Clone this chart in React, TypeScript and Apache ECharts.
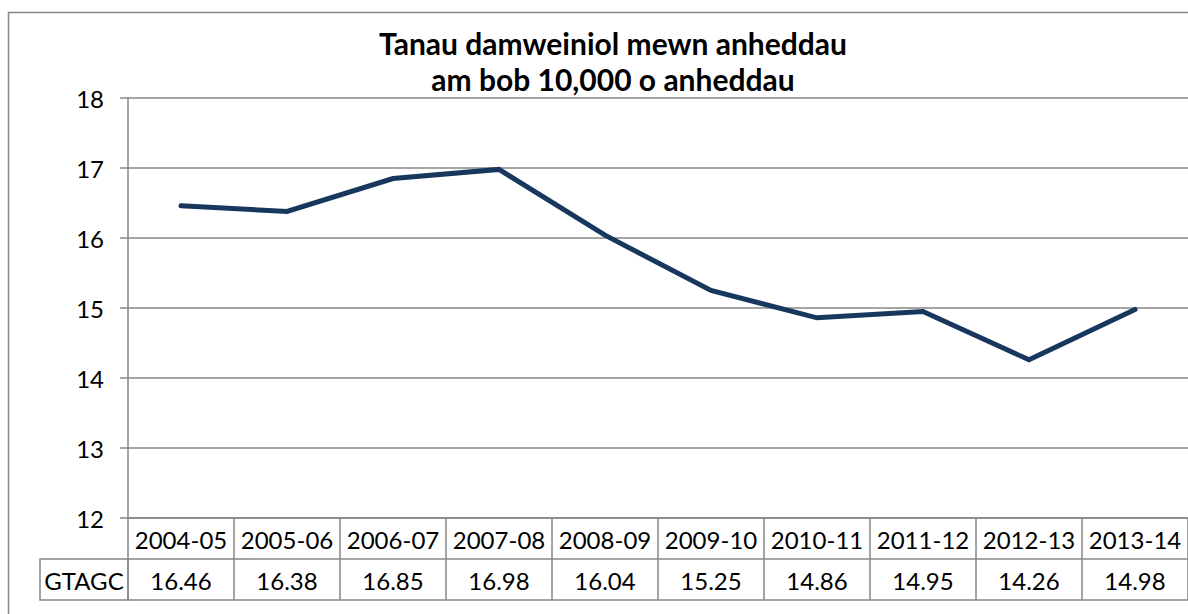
import React, { useEffect, useRef } from "react";
import * as echarts from "echarts";

const categories = ["2004-05", "2005-06", "2006-07", "2007-08", "2008-09", "2009-10", "2010-11", "2011-12", "2012-13", "2013-14"];
const values = [16.46, 16.38, 16.85, 16.98, 16.04, 15.25, 14.86, 14.95, 14.26, 14.98];
const seriesName = "GTAGC";
const titleText = "Tanau damweiniol mewn anheddau\nam bob 10,000 o anheddau";

const FONT = "Lato, 'Open Sans', sans-serif";
const GRAY = "#878787";

export default function App() {
  const ref = useRef<HTMLDivElement>(null);
  useEffect(() => {
    if (!ref.current) return;
    const chart = echarts.init(ref.current, undefined, { renderer: "svg" });
    const gridLeft = 128, gridTop = 98, gridW = 1070, gridH = 420, rowH = 41;
    chart.setOption({
      animation: false,
      backgroundColor: "#ffffff",
      textStyle: { fontFamily: FONT },
      title: {
        text: titleText,
        left: 608,
        textAlign: "center",
        top: 20,
        textStyle: { fontFamily: FONT, fontSize: 30, fontWeight: "bold", color: "#000", lineHeight: 36 },
      },
      grid: { left: gridLeft, top: gridTop, width: gridW, height: gridH },
      xAxis: [
        {
          type: "category",
          data: categories,
          boundaryGap: true,
          axisLine: { show: true, lineStyle: { color: GRAY, width: 1.5 } },
          axisTick: { show: true, length: rowH, interval: 0, lineStyle: { color: GRAY, width: 1.5 } },
          axisLabel: { interval: 0, margin: 9, fontSize: 24, color: "#000", fontFamily: FONT },
          splitLine: { show: false },
        },
        {
          type: "category",
          data: values.map((v) => v.toFixed(2)),
          position: "bottom",
          offset: rowH,
          boundaryGap: true,
          axisLine: { show: true, lineStyle: { color: GRAY, width: 1.5 } },
          axisTick: { show: true, length: rowH, interval: 0, lineStyle: { color: GRAY, width: 1.5 } },
          axisLabel: { interval: 0, margin: 9, fontSize: 24, color: "#000", fontFamily: FONT },
        },
        {
          type: "category",
          data: categories,
          position: "bottom",
          offset: rowH * 2,
          axisLine: { show: true, lineStyle: { color: GRAY, width: 1.5 } },
          axisTick: { show: false },
          axisLabel: { show: false },
        },
      ],
      yAxis: {
        type: "value",
        min: 12,
        max: 18,
        interval: 1,
        axisLine: { show: true, lineStyle: { color: GRAY, width: 1.5 } },
        axisTick: { show: true, length: 8, lineStyle: { color: GRAY, width: 1.5 } },
        axisLabel: { margin: 24, fontSize: 24, color: "#000", fontFamily: FONT },
        splitLine: { show: true, lineStyle: { color: GRAY, width: 1.5 } },
      },
      graphic: [
        {
          type: "rect",
          shape: { x: 8.5, y: 12.5, width: 1220, height: 640 },
          style: { fill: "none", stroke: GRAY, lineWidth: 1.5 },
          silent: true,
        },
        {
          type: "rect",
          shape: { x: 40, y: gridTop + gridH + rowH, width: gridLeft - 40, height: rowH },
          style: { fill: "none", stroke: GRAY, lineWidth: 1.5 },
        },
        {
          type: "text",
          x: 84,
          y: gridTop + gridH + rowH + rowH / 2 + 1,
          style: { text: seriesName, fontSize: 24, fontFamily: FONT, fill: "#000", align: "center", verticalAlign: "middle" },
        },
      ],
      series: [
        {
          name: seriesName,
          type: "line",
          data: values,
          symbol: "none",
          lineStyle: { color: "#17375e", width: 5, cap: "round", join: "miter" },
        },
      ],
    });
    return () => chart.dispose();
  }, []);
  return <div ref={ref} style={{ position: "fixed", left: 0, top: 0, width: 1188, height: 614 }} />;
}
